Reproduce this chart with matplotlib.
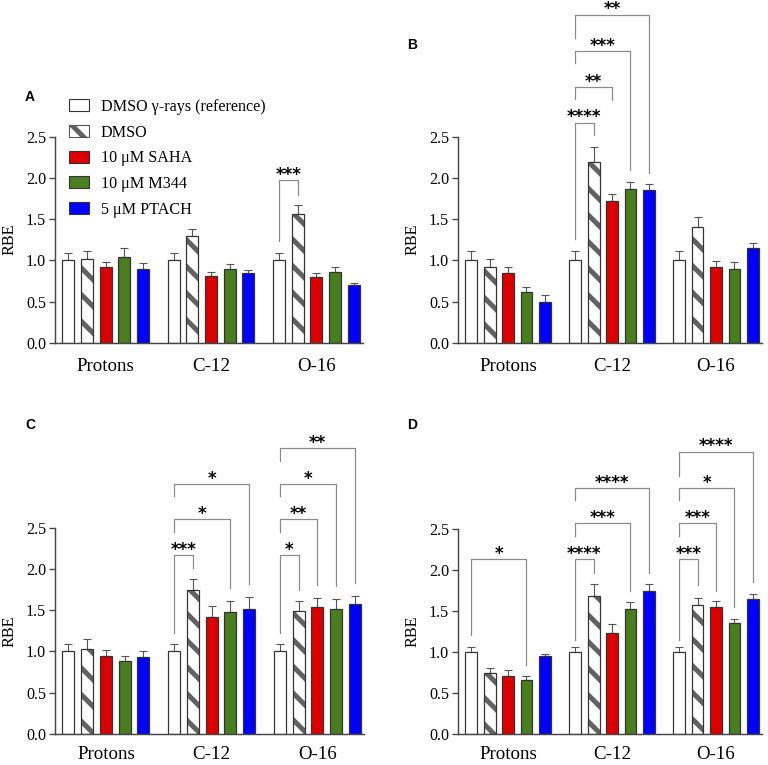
import matplotlib
matplotlib.use("Agg")
import matplotlib.pyplot as plt
import numpy as np
from matplotlib.patches import Patch
from matplotlib.legend_handler import HandlerTuple

plt.rcParams['font.family'] = ['Liberation Serif', 'DejaVu Serif']
plt.rcParams['hatch.linewidth'] = 4.5

groups = ['Protons', 'C-12', 'O-16']
series = ['DMSO γ-rays (reference)', 'DMSO', '10 μM SAHA', '10 μM M344', '5 μM PTACH']
panel_letters = ['A', 'B', 'C', 'D']

# values[panel][series][group]
A_vals = [[1.00, 1.00, 1.00], [1.02, 1.29, 1.56], [0.92, 0.81, 0.80], [1.04, 0.90, 0.86], [0.90, 0.85, 0.70]]
A_errs = [[0.09, 0.09, 0.09], [0.09, 0.09, 0.11], [0.065, 0.045, 0.05], [0.11, 0.06, 0.06], [0.065, 0.035, 0.03]]
B_vals = [[1.00, 1.00, 1.00], [0.92, 2.19, 1.40], [0.84, 1.72, 0.92], [0.62, 1.87, 0.90], [0.49, 1.85, 1.15]]
B_errs = [[0.11, 0.11, 0.11], [0.10, 0.19, 0.13], [0.08, 0.08, 0.075], [0.055, 0.08, 0.075], [0.085, 0.08, 0.055]]
C_vals = [[1.00, 1.00, 1.00], [1.03, 1.75, 1.49], [0.94, 1.42, 1.54], [0.88, 1.48, 1.52], [0.93, 1.52, 1.57]]
C_errs = [[0.09, 0.09, 0.09], [0.12, 0.125, 0.12], [0.075, 0.13, 0.11], [0.07, 0.13, 0.12], [0.08, 0.145, 0.105]]
D_vals = [[1.00, 1.00, 1.00], [0.75, 1.68, 1.58], [0.71, 1.23, 1.55], [0.66, 1.53, 1.35], [0.95, 1.74, 1.65]]
D_errs = [[0.06, 0.06, 0.06], [0.06, 0.155, 0.075], [0.07, 0.11, 0.07], [0.045, 0.075, 0.055], [0.03, 0.095, 0.06]]

# significance brackets: (group, compared series, line y, label, left leg bottom, right leg bottom)
A_sig = [(2, 1, 1.97, '***', 1.23, 1.79)]
B_sig = [(1, 1, 2.67, '****', 1.26, 2.52), (1, 2, 3.10, '**', 2.96, 2.95),
         (1, 3, 3.54, '***', 3.39, 2.10), (1, 4, 3.98, '**', 3.70, 2.06)]
C_sig = [(1, 1, 2.17, '***', 1.22, 2.01), (1, 3, 2.60, '*', 2.45, 1.77), (1, 4, 3.03, '*', 2.88, 1.82),
         (2, 1, 2.17, '*', 1.22, 1.74), (2, 2, 2.60, '**', 2.45, 1.81), (2, 3, 3.03, '*', 2.88, 1.79),
         (2, 4, 3.46, '**', 3.31, 1.83)]
D_sig = [(0, 3, 2.135, '*', 1.21, 0.84), (1, 1, 2.135, '****', 1.15, 1.97), (1, 3, 2.57, '***', 2.42, 1.75),
         (1, 4, 3.00, '****', 2.85, 1.97), (2, 1, 2.135, '***', 1.15, 1.82), (2, 2, 2.57, '***', 2.42, 1.75),
         (2, 3, 3.00, '*', 2.85, 1.55), (2, 4, 3.44, '****', 3.15, 1.86)]

panels = [(A_vals, A_errs, A_sig), (B_vals, B_errs, B_sig), (C_vals, C_errs, C_sig), (D_vals, D_errs, D_sig)]

colors = ['white', 'white', '#dc0000', '#4a7d1f', '#0000ff']
edge = '#333333'
hatch_col = '#626262'
W, H = 768, 765
fig = plt.figure(figsize=(W / 80, H / 80), dpi=80)

rects_px = [(55, 342.7, 308, 206), (458, 342.7, 304, 206), (55, 734, 309, 206.3), (458, 734.3, 304, 205.3)]
letter_px = [(30, 97), (412, 45), (30, 425), (412, 425)]
xpads = [14, 14, 10.5, 10.5]

gsp = 5.65
width = 0.64
offsets = np.arange(5) - 2

for p, (vals, errs, sigs) in enumerate(panels):
    l, b, w, h = rects_px[p]
    ax = fig.add_axes([l / W, (H - b) / H, w / W, h / H])
    centers = np.arange(len(groups)) * gsp
    for s in range(5):
        x = centers + offsets[s]
        if s == 1:
            ax.bar(x, vals[s], width, color='white', edgecolor=hatch_col, hatch='\\', linewidth=0, zorder=2)
            ax.bar(x, vals[s], width, facecolor='none', edgecolor=edge, linewidth=1.1, zorder=3)
        else:
            ax.bar(x, vals[s], width, color=colors[s], edgecolor=edge, linewidth=1.1, zorder=2)
        ax.errorbar(x, vals[s], yerr=[np.zeros(3), errs[s]], fmt='none', ecolor='#555555',
                    elinewidth=1.0, capsize=3.5, capthick=1.0, zorder=1)
    for (g, j, yl, lab, lb, rb) in sigs:
        x0 = centers[g] + offsets[0]
        x1 = centers[g] + offsets[j]
        ax.plot([x0, x0, x1, x1], [lb, yl, yl, rb], color='#8a8a8a', lw=1.1, clip_on=False, zorder=4)
        ax.text((x0 + x1) / 2, yl + 0.005, lab, ha='center', va='baseline', fontsize=15,
                fontweight='bold', family='DejaVu Sans', clip_on=False)
    ax.set_xlim(-2.72, 2 * gsp + 2.5)
    ax.set_ylim(0, 2.5)
    ax.set_yticks([0, 0.5, 1.0, 1.5, 2.0, 2.5])
    ax.set_yticklabels(['0.0', '0.5', '1.0', '1.5', '2.0', '2.5'])
    ax.set_xticks(centers)
    ax.set_xticklabels(groups, fontsize=17)
    ax.tick_params(axis='x', length=0, pad=xpads[p])
    ax.tick_params(axis='y', length=5, width=1.2, color='#444444', labelsize=14.5, pad=3)
    for sp in ['top', 'right']:
        ax.spines[sp].set_visible(False)
    for sp in ['left', 'bottom']:
        ax.spines[sp].set_color('#444444')
        ax.spines[sp].set_linewidth(1.3)
    ax.set_ylabel('RBE', fontsize=14.5, labelpad=8)
    fig.text(letter_px[p][0] / W, (H - letter_px[p][1]) / H, panel_letters[p], fontsize=12.5,
             fontweight='bold', family='Liberation Sans', ha='center', va='center')
    if p == 0:
        handles = []
        for s in range(5):
            if s == 1:
                handles.append((Patch(facecolor='white', edgecolor=hatch_col, hatch='\\', linewidth=0),
                                Patch(facecolor='none', edgecolor='#555555', linewidth=1.0)))
            else:
                handles.append(Patch(facecolor=colors[s], edgecolor=edge, linewidth=1.0))
        fig.legend(handles, series, loc='upper left', bbox_to_anchor=(69 / W, (H - 99) / H),
                   frameon=False, fontsize=14.5, handlelength=1.25, handleheight=0.75,
                   handletextpad=0.72, labelspacing=0.6, borderpad=0, borderaxespad=0,
                   handler_map={tuple: HandlerTuple(ndivide=1)})

fig.savefig('out.png', dpi=80)
